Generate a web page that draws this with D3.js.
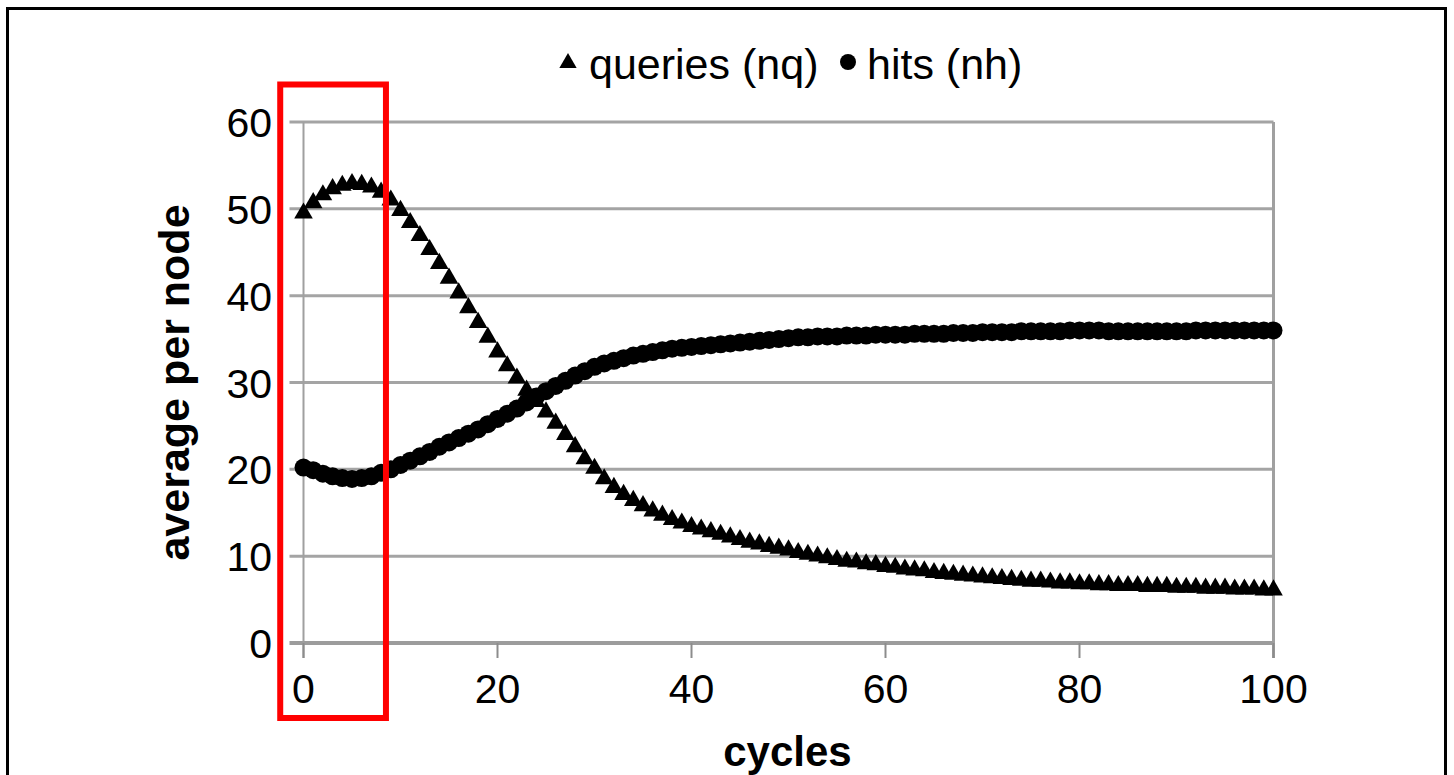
<!DOCTYPE html>
<html lang="en">
	<head>
		<meta charset="utf-8">
		<title>queries and hits per node</title>
		<script src="https://d3js.org/d3.v7.min.js" charset="utf-8"></script>
		<style type="text/css">
			body {
				margin: 0;
				background: #fff;
			}
			text {
				font-family: "Liberation Sans", Arial, Helvetica, sans-serif;
				fill: #000;
			}
		</style>
	</head>
	<body>
		<div id="main"></div>

		<script type="text/javascript">

			// cycles 0..100, one reading per cycle
			var cycles = d3.range(0, 101);

			var queries = [
				49.5, 50.7, 51.6, 52.3, 52.7, 52.9, 52.8, 52.5, 51.9, 51.0,
				49.8, 48.4, 46.9, 45.3, 43.7, 42.0, 40.3, 38.6, 36.9, 35.2,
				33.5, 31.9, 30.5, 29.1, 27.8, 26.6, 25.3, 24.0, 22.6, 21.2,
				20.1, 18.9, 17.9, 17.1, 16.4, 15.8, 15.2, 14.7, 14.2, 13.8,
				13.4, 13.1, 12.8, 12.5, 12.2, 11.9, 11.6, 11.4, 11.1, 10.9,
				10.7, 10.4, 10.2, 10.0, 9.8, 9.6, 9.4, 9.3, 9.1, 9.0,
				8.8, 8.7, 8.5, 8.4, 8.3, 8.1, 8.0, 7.9, 7.8, 7.7,
				7.6, 7.5, 7.4, 7.3, 7.2, 7.1, 7.1, 7.0, 6.9, 6.9,
				6.8, 6.8, 6.7, 6.7, 6.6, 6.6, 6.6, 6.5, 6.5, 6.5,
				6.4, 6.4, 6.4, 6.3, 6.3, 6.3, 6.2, 6.2, 6.2, 6.1,
				6.1
			];

			var hits = [
				20.2, 19.9, 19.5, 19.2, 19.0, 18.9, 19.0, 19.2, 19.6, 20.0,
				20.5, 21.0, 21.5, 22.0, 22.6, 23.1, 23.6, 24.1, 24.6, 25.2,
				25.8, 26.4, 27.0, 27.7, 28.4, 29.0, 29.6, 30.2, 30.8, 31.3,
				31.8, 32.2, 32.5, 32.8, 33.1, 33.3, 33.5, 33.7, 33.9, 34.0,
				34.1, 34.2, 34.3, 34.4, 34.5, 34.6, 34.7, 34.8, 34.9, 35.0,
				35.1, 35.2, 35.2, 35.3, 35.3, 35.3, 35.4, 35.4, 35.4, 35.5,
				35.5, 35.5, 35.5, 35.6, 35.6, 35.6, 35.6, 35.7, 35.7, 35.7,
				35.8, 35.8, 35.8, 35.8, 35.9, 35.9, 35.9, 35.9, 35.9, 36.0,
				36.0, 36.0, 36.0, 35.9, 35.9, 35.9, 35.9, 35.9, 35.9, 35.9,
				35.9, 35.9, 36.0, 36.0, 36.0, 36.0, 36.0, 36.0, 36.0, 36.0,
				36.0
			];

			var xTicks = [0, 20, 40, 60, 80, 100];
			var yTicks = [0, 10, 20, 30, 40, 50, 60];
			var seriesNames = ["queries (nq)", "hits (nh)"];
			var highlight = [-2.4, 8.5];   // cycles boxed in red

			var w = 1454;
			var h = 775;

			var svg = d3.select("#main")
						.append("svg")
						.attr("width", w)
						.attr("height", h);

			var x = d3.scaleLinear().domain([0, 100]).range([303.5, 1273.5]);
			var y = d3.scaleLinear().domain([0, 60]).range([643, 122]);

			// outer frame (bottom edge runs off the page)
			svg.append("rect")
				.attr("x", 7.5).attr("y", 8.5)
				.attr("width", 1438).attr("height", 820)
				.attr("fill", "none")
				.attr("stroke", "#000")
				.attr("stroke-width", 3);

			// horizontal gridlines
			svg.append("g")
				.selectAll("line")
				.data(yTicks.filter(function(d) { return d > 0; }))
				.enter()
				.append("line")
				.attr("x1", x(0) - 14)
				.attr("x2", x(100))
				.attr("y1", function(d) { return y(d); })
				.attr("y2", function(d) { return y(d); })
				.attr("stroke", "#a4a4a4")
				.attr("stroke-width", 3);

			// left and right vertical lines
			svg.append("g")
				.selectAll("line")
				.data([0, 100])
				.enter()
				.append("line")
				.attr("x1", function(d) { return x(d); })
				.attr("x2", function(d) { return x(d); })
				.attr("y1", y(60))
				.attr("y2", y(0) + 15)
				.attr("stroke", "#a0a0a0")
				.attr("stroke-width", function(d) { return d === 0 ? 2 : 3; });

			// x axis baseline
			svg.append("line")
				.attr("x1", x(0) - 14)
				.attr("x2", x(100))
				.attr("y1", y(0))
				.attr("y2", y(0))
				.attr("stroke", "#9c9c9c")
				.attr("stroke-width", 4);

			// x ticks
			svg.append("g")
				.selectAll("line")
				.data(xTicks)
				.enter()
				.append("line")
				.attr("x1", function(d) { return x(d); })
				.attr("x2", function(d) { return x(d); })
				.attr("y1", y(0))
				.attr("y2", y(0) + 15)
				.attr("stroke", "#8c8c8c")
				.attr("stroke-width", 2);

			// tick labels
			svg.append("g")
				.selectAll("text")
				.data(yTicks)
				.enter()
				.append("text")
				.attr("x", 272)
				.attr("y", function(d) { return y(d) + 15; })
				.attr("text-anchor", "end")
				.style("font-size", "41px")
				.text(function(d) { return d; });

			svg.append("g")
				.selectAll("text")
				.data(xTicks)
				.enter()
				.append("text")
				.attr("x", function(d) { return x(d); })
				.attr("y", 703)
				.attr("text-anchor", "middle")
				.style("font-size", "41px")
				.text(function(d) { return d; });

			// axis titles
			svg.append("text")
				.attr("transform", "translate(189," + y(30) + ") rotate(-90)")
				.attr("text-anchor", "middle")
				.style("font-size", "43px")
				.style("font-weight", "bold")
				.text("average per node");

			svg.append("text")
				.attr("x", x(50) - 1)
				.attr("y", 766)
				.attr("text-anchor", "middle")
				.style("font-size", "42px")
				.style("font-weight", "bold")
				.text("cycles");

			// series
			var tri = d3.symbol().type(d3.symbolTriangle).size(150);

			svg.append("g")
				.selectAll("path")
				.data(cycles)
				.enter()
				.append("path")
				.attr("d", tri)
				.attr("transform", function(d) {
					return "translate(" + x(d) + "," + y(queries[d]) + ")";
				})
				.attr("fill", "#000");

			svg.append("g")
				.selectAll("circle")
				.data(cycles)
				.enter()
				.append("circle")
				.attr("cx", function(d) { return x(d); })
				.attr("cy", function(d) { return y(hits[d]); })
				.attr("r", 9)
				.attr("fill", "#000");

			// legend
			var legend = svg.append("g");
			legend.append("path")
				.attr("d", d3.symbol().type(d3.symbolTriangle).size(130))
				.attr("transform", "translate(568,63)");
			legend.append("text")
				.attr("x", 589)
				.attr("y", 79)
				.style("font-size", "43px")
				.text(seriesNames[0]);
			legend.append("circle")
				.attr("cx", 848)
				.attr("cy", 62)
				.attr("r", 8);
			legend.append("text")
				.attr("x", 867)
				.attr("y", 79)
				.style("font-size", "43px")
				.text(seriesNames[1]);

			// red highlight box
			svg.append("rect")
				.attr("x", x(highlight[0]))
				.attr("y", 84.5)
				.attr("width", x(highlight[1]) - x(highlight[0]))
				.attr("height", 633.5)
				.attr("fill", "none")
				.attr("stroke", "#ff0000")
				.attr("stroke-width", 6);

		</script>
	</body>
</html>
